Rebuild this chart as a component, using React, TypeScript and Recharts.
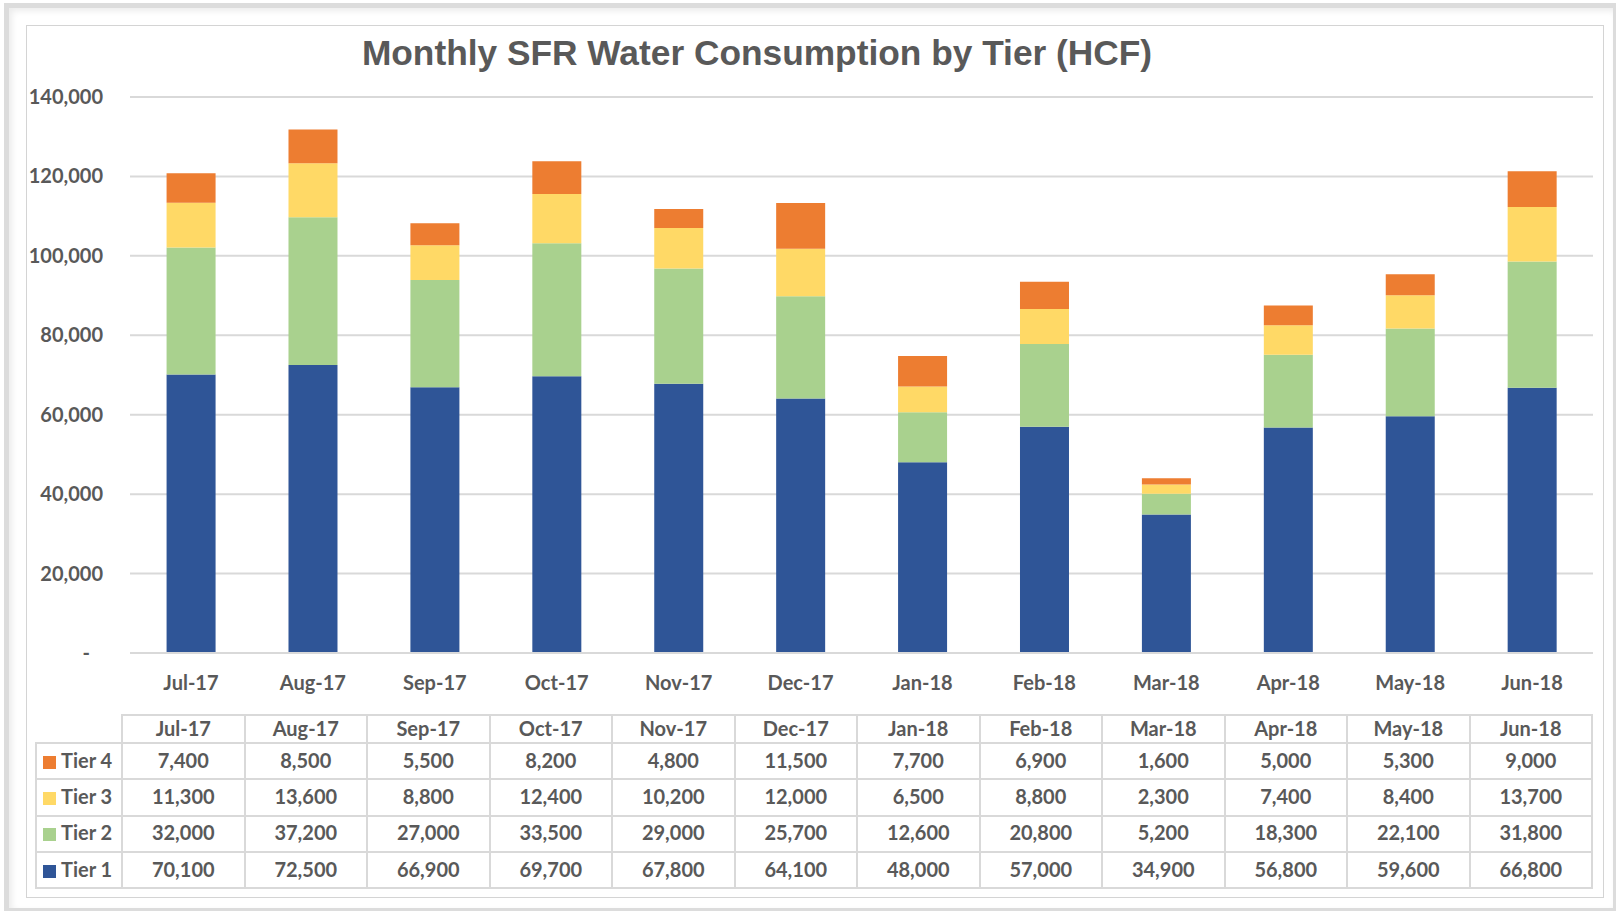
import React from "react"
import { BarChart, Bar, XAxis, YAxis, CartesianGrid } from "recharts"

const months = ["Jul-17", "Aug-17", "Sep-17", "Oct-17", "Nov-17", "Dec-17", "Jan-18", "Feb-18", "Mar-18", "Apr-18", "May-18", "Jun-18"]
const tier1 = [70100, 72500, 66900, 69700, 67800, 64100, 48000, 57000, 34900, 56800, 59600, 66800]
const tier2 = [32000, 37200, 27000, 33500, 29000, 25700, 12600, 20800, 5200, 18300, 22100, 31800]
const tier3 = [11300, 13600, 8800, 12400, 10200, 12000, 6500, 8800, 2300, 7400, 8400, 13700]
const tier4 = [7400, 8500, 5500, 8200, 4800, 11500, 7700, 6900, 1600, 5000, 5300, 9000]
const yTicks = [0, 20000, 40000, 60000, 80000, 100000, 120000, 140000]

const tiers = [
  { key: "tier4", name: "Tier 4", color: "#ED7D31", values: tier4 },
  { key: "tier3", name: "Tier 3", color: "#FFD966", values: tier3 },
  { key: "tier2", name: "Tier 2", color: "#A9D18E", values: tier2 },
  { key: "tier1", name: "Tier 1", color: "#2F5597", values: tier1 },
]

const data = months.map((m, i) => ({
  month: m,
  tier1: tier1[i],
  tier2: tier2[i],
  tier3: tier3[i],
  tier4: tier4[i],
}))

const FONT = "Lato, 'Open Sans', sans-serif"
const TEXT = "#595959"
const GRID = "#D9D9D9"

const fmt = (v: number) => v.toLocaleString("en-US")

function YTick({ x, y, payload }: any) {
  const zero = payload.value === 0
  return (
    <text
      x={x}
      y={y}
      dx={zero ? -13 : 0}
      dy="0.35em"
      textAnchor="end"
      fill={TEXT}
      fontSize={20}
      fontWeight={700}
      fontFamily={FONT}
    >
      {zero ? "-" : fmt(payload.value)}
    </text>
  )
}

function DataTable() {
  const cell: React.CSSProperties = {
    border: `2px solid ${GRID}`,
    textAlign: "center",
    padding: "0 0 3px 0",
    lineHeight: "20px",
  }
  return (
    <table
      style={{
        position: "absolute",
        left: 35,
        top: 714,
        width: 1558,
        borderCollapse: "collapse",
        tableLayout: "fixed",
        fontFamily: FONT,
        fontWeight: 700,
        fontSize: 20,
        color: TEXT,
      }}
    >
      <colgroup>
        <col style={{ width: 86 }} />
        {months.map((m) => (
          <col key={m} />
        ))}
      </colgroup>
      <tbody>
        <tr style={{ height: 28 }}>
          <td style={{ ...cell, borderTop: "none", borderLeft: "none" }} />
          {months.map((m) => (
            <td key={m} style={cell}>
              {m}
            </td>
          ))}
        </tr>
        {tiers.map((t) => (
          <tr key={t.key} style={{ height: 36.3 }}>
            <td style={{ ...cell, textAlign: "left", paddingLeft: 6, whiteSpace: "nowrap" }}>
              <span
                style={{
                  display: "inline-block",
                  width: 13,
                  height: 13,
                  background: t.color,
                  marginRight: 5,
                  verticalAlign: "-1px",
                }}
              />
              {t.name}
            </td>
            {t.values.map((v, i) => (
              <td key={i} style={cell}>
                {fmt(v)}
              </td>
            ))}
          </tr>
        ))}
      </tbody>
    </table>
  )
}

export default function App() {
  return (
    <div style={{ position: "absolute", left: 0, top: 0, width: 1616, height: 911, background: "#fff", overflow: "hidden" }}>
      <div
        style={{
          position: "absolute",
          left: 4,
          top: 3,
          width: 1604,
          height: 900,
          border: "5px solid #DCDCDC",
          boxShadow: "inset 3px 3px 6px rgba(0,0,0,0.08)",
        }}
      />
      <div
        style={{
          position: "absolute",
          left: 26,
          top: 25,
          width: 1576,
          height: 871,
          border: "1px solid #D4D4D4",
        }}
      />
      <div
        style={{
          position: "absolute",
          left: 257,
          top: 30,
          width: 1000,
          textAlign: "center",
          fontFamily: "'Liberation Sans', Arial, sans-serif",
          fontWeight: 700,
          fontSize: 35.3,
          color: TEXT,
          lineHeight: "46px",
        }}
      >
        Monthly SFR Water Consumption by Tier (HCF)
      </div>
      <div style={{ position: "absolute", left: 0, top: 0 }}>
        <BarChart
          width={1616}
          height={700}
          data={data}
          margin={{ top: 97, right: 23, left: 0, bottom: 0 }}
          barCategoryGap="30%"
        >
          <CartesianGrid stroke={GRID} strokeWidth={2} vertical={false} />
          <XAxis
            dataKey="month"
            height={47}
            axisLine={{ stroke: GRID, strokeWidth: 2 }}
            tickLine={false}
            tickMargin={17}
            tick={{ fill: TEXT, fontSize: 20, fontWeight: 700, fontFamily: FONT }}
            interval={0}
          />
          <YAxis
            width={130}
            domain={[0, 140000]}
            ticks={yTicks}
            axisLine={false}
            tickLine={false}
            tickSize={0}
            tickMargin={27}
            tick={<YTick />}
          />
          <Bar dataKey="tier1" name="Tier 1" stackId="a" fill="#2F5597" isAnimationActive={false} />
          <Bar dataKey="tier2" name="Tier 2" stackId="a" fill="#A9D18E" isAnimationActive={false} />
          <Bar dataKey="tier3" name="Tier 3" stackId="a" fill="#FFD966" isAnimationActive={false} />
          <Bar dataKey="tier4" name="Tier 4" stackId="a" fill="#ED7D31" isAnimationActive={false} />
        </BarChart>
      </div>
      <DataTable />
    </div>
  )
}
